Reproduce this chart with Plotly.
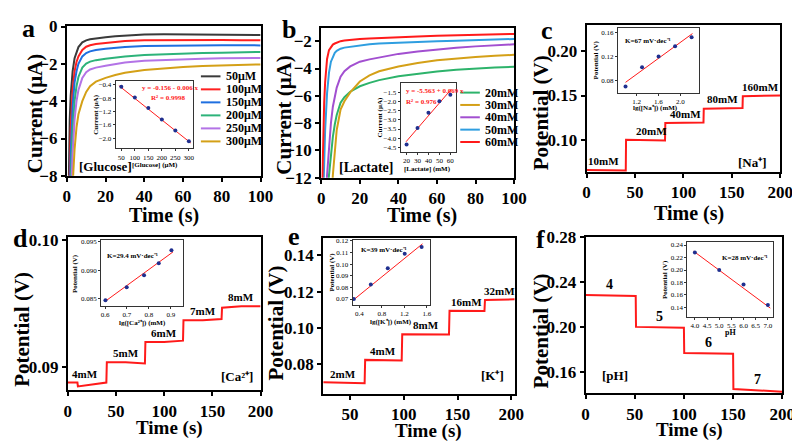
import plotly.graph_objects as go

W, H = 800, 442
SERIF = "Liberation Serif"

# ---------------- Data ----------------
# Panel a: glucose chronoamperometry
a_time = [0.5, 1, 1.5, 2, 3, 4, 5, 6, 8, 10, 12, 15, 20, 25, 30, 40, 50, 60, 70, 80, 90, 100]
a_50uM = [-12, -7.5, -5, -3.7, -2.4, -1.7, -1.35, -1.1, -0.85, -0.74, -0.68, -0.63, -0.57, -0.52, -0.48, -0.42, -0.41, -0.42, -0.43, -0.43, -0.44, -0.45]
a_100uM = [-14, -10, -8, -5.5, -3.4, -2.4, -1.9, -1.6, -1.25, -1.08, -1.0, -0.93, -0.87, -0.82, -0.78, -0.74, -0.73, -0.73, -0.72, -0.72, -0.73, -0.74]
a_150uM = [-15, -12, -9, -6.8, -4.3, -3.0, -2.4, -2.0, -1.6, -1.42, -1.33, -1.26, -1.19, -1.13, -1.09, -1.04, -1.02, -1.01, -1.0, -1.0, -1.0, -1.01]
a_200uM = [-16, -13, -10.5, -8.5, -5.5, -4.0, -3.2, -2.7, -2.2, -1.98, -1.88, -1.8, -1.72, -1.65, -1.6, -1.53, -1.48, -1.45, -1.42, -1.4, -1.38, -1.36]
a_250uM = [-17, -14, -11.5, -9.5, -6.8, -5.0, -4.0, -3.4, -2.75, -2.45, -2.3, -2.2, -2.1, -2.0, -1.93, -1.83, -1.78, -1.75, -1.72, -1.7, -1.69, -1.68]
a_300uM = [-18, -16, -14, -12, -8.5, -6.6, -5.4, -4.7, -4.0, -3.5, -3.2, -2.95, -2.75, -2.6, -2.48, -2.33, -2.24, -2.17, -2.12, -2.08, -2.05, -2.03]
a_labels = ["50μM", "100μM", "150μM", "200μM", "250μM", "300μM"]
a_ins_conc = [50, 100, 150, 200, 250, 300]
a_ins_current = [-0.46, -0.78, -1.10, -1.44, -1.77, -2.09]
a_fit_conc = [41, 307]
a_fit_current = [-0.43, -2.14]

# Panel b: lactate chronoamperometry
b_time = [0.5, 1, 1.5, 2, 3, 4, 5, 6, 7, 8, 10, 12, 15, 20, 25, 30, 40, 50, 60, 70, 80, 90, 100]
b_20mM = [-20, -18.5, -17, -15.5, -13.5, -11.8, -10.2, -9.0, -8.1, -7.4, -6.5, -6.1, -5.7, -5.3, -5.05, -4.85, -4.56, -4.38, -4.22, -4.1, -4.0, -3.93, -3.87]
b_30mM = [-25, -24, -23, -22, -19, -16.5, -14, -11.8, -9.8, -8.5, -7.0, -6.4, -5.75, -4.95, -4.5, -4.2, -3.86, -3.6, -3.4, -3.25, -3.15, -3.07, -3.0]
b_40mM = [-20, -18, -16, -14, -11.8, -9.5, -8.0, -6.8, -6.0, -5.4, -4.6, -4.2, -3.85, -3.5, -3.33, -3.2, -2.93, -2.75, -2.6, -2.48, -2.38, -2.3, -2.23]
b_50mM = [-16, -13, -10.5, -8.5, -5.8, -4.3, -3.5, -3.1, -2.85, -2.7, -2.55, -2.47, -2.4, -2.3, -2.22, -2.17, -2.1, -2.04, -2.0, -1.96, -1.92, -1.88, -1.84]
b_60mM = [-12.5, -9, -6.5, -5, -3.3, -2.65, -2.4, -2.25, -2.17, -2.1, -2.0, -1.95, -1.9, -1.84, -1.8, -1.76, -1.7, -1.65, -1.6, -1.57, -1.54, -1.5, -1.47]
b_labels = ["20mM", "30mM", "40mM", "50mM", "60mM"]
b_ins_conc = [20, 30, 40, 50, 60]
b_ins_current = [-4.35, -3.45, -2.6, -1.97, -1.62]
b_fit_conc = [19.5, 61]
b_fit_current = [-4.2, -1.3]

# Panel c: Na+
c_time = [0, 20, 40.5, 40.8, 60, 81, 81.3, 100, 120.7, 121, 140, 161, 161.3, 180, 200]
c_pot = [0.0660, 0.0657, 0.0654, 0.1000, 0.0997, 0.0993, 0.1189, 0.1192, 0.1196, 0.1350, 0.1355, 0.1360, 0.1493, 0.1496, 0.1500]
c_step_labels = ["10mM", "20mM", "40mM", "80mM", "160mM"]
c_label_time = [18, 67, 102, 140, 180]
c_label_pot = [0.0660, 0.1000, 0.1192, 0.1355, 0.1496]
c_ins_lg = [1.0, 1.301, 1.602, 1.903, 2.204]
c_ins_pot = [0.070, 0.102, 0.120, 0.137, 0.152]
c_fit_lg = [1.0, 2.22]
c_fit_pot = [0.077, 0.158]

# Panel d: Ca2+
d_time = [0, 10, 10.5, 20, 30, 40, 40.5, 60, 80, 80.5, 100, 119.5, 120, 140, 159.5, 160, 180, 200]
d_pot = [0.0888, 0.0888, 0.0885, 0.0886, 0.0887, 0.0888, 0.0904, 0.0904, 0.0903, 0.0920, 0.0920, 0.0921, 0.0937, 0.0937, 0.0938, 0.0947, 0.0948, 0.0948]
d_step_labels = ["4mM", "5mM", "6mM", "7mM", "8mM"]
d_label_time = [18, 60, 100, 140, 180]
d_label_pot = [0.0888, 0.0904, 0.0920, 0.0937, 0.0948]
d_ins_lg = [0.602, 0.699, 0.778, 0.845, 0.903]
d_ins_pot = [0.0847, 0.0870, 0.0891, 0.0912, 0.0935]
d_fit_lg = [0.6, 0.91]
d_fit_pot = [0.0845, 0.0932]

# Panel e: K+
e_time = [25, 45, 63.5, 64, 80, 98, 98.5, 120, 142, 142.5, 160, 175, 175.5, 190, 203]
e_pot = [0.0702, 0.0700, 0.0697, 0.0825, 0.0823, 0.0822, 0.0966, 0.0965, 0.0964, 0.1095, 0.1095, 0.1094, 0.1155, 0.1157, 0.1158]
e_step_labels = ["2mM", "4mM", "8mM", "16mM", "32mM"]
e_label_time = [43, 81, 121, 158, 189]
e_label_pot = [0.0700, 0.0823, 0.0965, 0.1095, 0.1157]
e_ins_lg = [0.301, 0.602, 0.903, 1.204, 1.505]
e_ins_pot = [0.0700, 0.0825, 0.0965, 0.1090, 0.1148]
e_fit_lg = [0.3, 1.52]
e_fit_pot = [0.0695, 0.1175]

# Panel f: pH
f_time = [0, 30, 51, 51.3, 75, 100, 100.3, 125, 150, 150.3, 175, 200]
f_pot = [0.2285, 0.2283, 0.2278, 0.2003, 0.2000, 0.1995, 0.1772, 0.1770, 0.1765, 0.1452, 0.1440, 0.1428]
f_step_labels = ["4", "5", "6", "7"]
f_label_time = [24, 75, 125, 175]
f_label_pot = [0.2283, 0.2000, 0.1770, 0.1440]
f_ins_ph = [4.0, 5.0, 6.0, 7.0]
f_ins_pot = [0.228, 0.200, 0.177, 0.144]
f_fit_ph = [3.95, 7.1]
f_fit_pot = [0.230, 0.139]

# ---------------- Helpers ----------------
def xdom(x0, x1):
    return [x0 / W, x1 / W]

def ydom(y0, y1):
    return [1 - y1 / H, 1 - y0 / H]

def px(x):
    return x / W

def py(y):
    return 1 - y / H

def ids(i):
    return ("x", "y") if i == 1 else (f"x{i}", f"y{i}")

def keys(i):
    return ("xaxis", "yaxis") if i == 1 else (f"xaxis{i}", f"yaxis{i}")

fig = go.Figure()
layout = {}

def main_axes(i, box, xr, yr, xt, yt, yfmt=None):
    xk, yk = keys(i)
    xi, yi = ids(i)
    common = dict(showline=True, mirror=True, linecolor="black", linewidth=2,
                  ticks="outside", ticklen=4, tickwidth=2, tickcolor="black",
                  showgrid=False, zeroline=False,
                  tickfont=dict(family=SERIF, size=17, color="black", weight="bold"))
    layout[xk] = dict(domain=xdom(box[0], box[2]), range=xr, anchor=yi,
                      tickvals=xt, **common)
    ya = dict(domain=ydom(box[1], box[3]), range=yr, anchor=xi, tickvals=yt, **common)
    if yfmt:
        ya["tickformat"] = yfmt
    layout[yk] = ya

def inset_axes(i, box, xr, yr, xt, yt, xfmt=None, yfmt=None):
    xk, yk = keys(i)
    xi, yi = ids(i)
    common = dict(showline=True, mirror=True, linecolor="#333", linewidth=1,
                  ticks="outside", ticklen=2, tickwidth=1, tickcolor="#333",
                  showgrid=False, zeroline=False,
                  tickfont=dict(family=SERIF, size=7, color="black"))
    xa = dict(domain=xdom(box[0], box[2]), range=xr, anchor=yi, tickvals=xt, **common)
    ya = dict(domain=ydom(box[1], box[3]), range=yr, anchor=xi, tickvals=yt, **common)
    if xfmt:
        xa["tickformat"] = xfmt
    if yfmt:
        ya["tickformat"] = yfmt
    layout[xk] = xa
    layout[yk] = ya

def line_trace(i, x, y, color, width=2):
    xi, yi = ids(i)
    fig.add_trace(go.Scatter(x=x, y=y, mode="lines", xaxis=xi, yaxis=yi,
                             line=dict(color=color, width=width), showlegend=False,
                             hoverinfo="skip"))

def point_trace(i, x, y):
    xi, yi = ids(i)
    fig.add_trace(go.Scatter(x=x, y=y, mode="markers", xaxis=xi, yaxis=yi,
                             marker=dict(color="#1f2f8f", size=4), showlegend=False,
                             hoverinfo="skip"))

annotations = []
shapes = []

def ptext(x, y, text, size, bold=True, color="black", angle=0, xanchor="center"):
    annotations.append(dict(x=px(x), y=py(y), xref="paper", yref="paper", text=text,
                            showarrow=False, textangle=angle, xanchor=xanchor,
                            yanchor="middle",
                            font=dict(family=SERIF, size=size, color=color,
                                      weight="bold" if bold else "normal")))

def dtext(i, x, y, text, size=12):
    xi, yi = ids(i)
    annotations.append(dict(x=x, y=y, xref=xi, yref=yi, text=text, showarrow=False,
                            xanchor="center", yanchor="bottom", yshift=1,
                            font=dict(family=SERIF, size=size, color="black", weight="bold")))

RED = "#ff1a1a"

# ---------------- Panel a ----------------
a_colors = ["#3a3a3a", "#ff2020", "#1f6fe0", "#2db37a", "#b373e6", "#d4a017"]
main_axes(1, (56, 9, 254, 166), [0, 100], [-8, 0.05], [0, 20, 40, 60, 80, 100], [-8, -6, -4, -2, 0])
for ys, col in zip([a_50uM, a_100uM, a_150uM, a_200uM, a_250uM, a_300uM], a_colors):
    line_trace(1, a_time, ys, col, 2)
inset_axes(7, (106, 67, 185, 137), [29.4, 315.6], [-2.294, -0.294],
           [50, 100, 150, 200, 250, 300], [-0.4, -0.8, -1.2, -1.6, -2.0], yfmt=".1f")
line_trace(7, a_fit_conc, a_fit_current, RED, 1)
point_trace(7, a_ins_conc, a_ins_current)

# ---------------- Panel b ----------------
b_colors = ["#2db36b", "#d4a017", "#a24fd0", "#2f9ee0", "#ff1a1a"]
main_axes(2, (316, 11, 513, 168), [0, 100], [-12, -1.0], [0, 20, 40, 60, 80, 100], [-12, -10, -8, -6, -4, -2])
for ys, col in zip([b_20mM, b_30mM, b_40mM, b_50mM, b_60mM], b_colors):
    line_trace(2, b_time, ys, col, 2)
inset_axes(8, (397, 69, 454, 141), [14.5, 65.5], [-4.76, -0.97],
           [20, 30, 40, 50, 60], [-1.5, -2.0, -2.5, -3.0, -3.5, -4.0, -4.5], yfmt=".1f")
line_trace(8, b_fit_conc, b_fit_current, RED, 1)
point_trace(8, b_ins_conc, b_ins_current)

# ---------------- Panel c ----------------
main_axes(3, (587, 8, 785, 162), [0, 200], [0.0636, 0.230], [0, 50, 100, 150, 200], [0.10, 0.15, 0.20], ".2f")
line_trace(3, c_time, c_pot, RED, 2)
for t, v, s in zip(c_label_time, c_label_pot, c_step_labels):
    dtext(3, t, v, s, 11)
inset_axes(9, (619, 11, 702, 79), [0.86, 2.34], [0.060, 0.168],
           [1.2, 1.6, 2.0], [0.08, 0.12, 0.16], xfmt=".1f", yfmt=".2f")
line_trace(9, c_fit_lg, c_fit_pot, RED, 1)
point_trace(9, c_ins_lg, c_ins_pot)

# ---------------- Panel d ----------------
main_axes(4, (57, 230, 254, 390), [0, 200], [0.0882, 0.10025], [0, 50, 100, 150, 200], [0.09, 0.10], ".2f")
line_trace(4, d_time, d_pot, RED, 2)
for t, v, s in zip(d_label_time, d_label_pot, d_step_labels):
    dtext(4, t, v, s, 11)
inset_axes(10, (91, 233, 175, 302), [0.582, 0.957], [0.0837, 0.0953],
           [0.6, 0.7, 0.8, 0.9], [0.085, 0.090, 0.095], xfmt=".1f", yfmt=".3f")
line_trace(10, d_fit_lg, d_fit_pot, RED, 1)
point_trace(10, d_ins_lg, d_ins_pot)

# ---------------- Panel e ----------------
main_axes(5, (318, 231, 514, 394), [25, 203.5], [0.0637, 0.1495], [50, 100, 150, 200], [0.08, 0.10, 0.12, 0.14], ".2f")
line_trace(5, e_time, e_pot, RED, 2)
for t, v, s in zip(e_label_time, e_label_pot, e_step_labels):
    dtext(5, t, v, s, 11)
inset_axes(11, (348, 233, 427, 301), [0.278, 1.652], [0.0648, 0.1208],
           [0.4, 0.8, 1.2, 1.6], [0.07, 0.08, 0.09, 0.10, 0.11, 0.12], xfmt=".1f", yfmt=".2f")
line_trace(11, e_fit_lg, e_fit_pot, RED, 1)
point_trace(11, e_ins_lg, e_ins_pot)

# ---------------- Panel f ----------------
main_axes(6, (586, 230, 787, 393), [0, 200], [0.1415, 0.28], [0, 50, 100, 150, 200], [0.16, 0.20, 0.24, 0.28], ".2f")
line_trace(6, f_time, f_pot, RED, 2)
for t, v, s in zip(f_label_time, f_label_pot, f_step_labels):
    dtext(6, t, v, s, 14)
inset_axes(12, (690, 235, 778, 313), [3.69, 7.23], [0.1255, 0.245],
           [4.0, 4.5, 5.0, 5.5, 6.0, 6.5, 7.0], [0.14, 0.16, 0.18, 0.20, 0.22, 0.24], xfmt=".1f", yfmt=".2f")
line_trace(12, f_fit_ph, f_fit_pot, RED, 1)
point_trace(12, f_ins_ph, f_ins_pot)

# ---------------- Manual legends ----------------
for k, (lab, col) in enumerate(zip(a_labels, a_colors)):
    yy = 62 + k * 13.6
    shapes.append(dict(type="line", xref="paper", yref="paper", x0=px(193), x1=px(213),
                       y0=py(yy), y1=py(yy), line=dict(color=col, width=2)))
    ptext(217, yy, lab, 12, xanchor="left")
for k, (lab, col) in enumerate(zip(b_labels, b_colors)):
    yy = 79 + k * 12.9
    shapes.append(dict(type="line", xref="paper", yref="paper", x0=px(458), x1=px(478),
                       y0=py(yy), y1=py(yy), line=dict(color=col, width=2)))
    ptext(481, yy, lab, 12, xanchor="left")

# ---------------- Texts ----------------
for (x, y, s) in [(17, 12, "a"), (283, 13, "b"), (547, 14, "c"), (9, 231, "d"), (288, 229, "e"), (540, 233, "f")]:
    ptext(x, y, s, 26)

# main axis titles
ptext(23, 101, "Current (μA)", 21, angle=-90)
ptext(155, 207, "Time (s)", 20)
ptext(277, 103, "Current (μA)", 21, angle=-90)
ptext(419, 207, "Time (s)", 20)
ptext(540, 100, "Potential (V)", 21, angle=-90)
ptext(692, 205, "Time (s)", 20)
ptext(10, 326, "Potential (V)", 21, angle=-90)
ptext(161, 429, "Time (s)", 19)
ptext(270, 320, "Potential (V)", 21, angle=-90)
ptext(426, 433, "Time (s)", 19)
ptext(540, 328, "Potential (V)", 21, angle=-90)
ptext(692, 432, "Time (s)", 19)

# in-plot species labels
ptext(66, 156, "[Glucose]", 13, xanchor="left")
ptext(332, 157, "[Lactate]", 14, xanchor="left")
ptext(757, 152, "[Na⁺]", 13)
ptext(230, 376, "[Ca²⁺]", 13)
ptext(491, 375, "[K⁺]", 13)
ptext(616, 375, "[pH]", 13)

# inset axis titles
ptext(85, 102, "Current (μA)", 7, angle=-90)
ptext(146, 155, "[Glucose] (μM)", 7)
ptext(376, 105, "Current (μA)", 7, angle=-90)
ptext(425, 159, "[Lactate] (mM)", 7)
ptext(597, 45, "Potential (V)", 7, angle=-90)
ptext(657, 95, "lg([Na⁺]) (mM)", 7)
ptext(65, 268, "Potential (V)", 7, angle=-90)
ptext(133, 320, "lg([Ca²⁺]) (mM)", 7)
ptext(326, 267, "Potential (V)", 7, angle=-90)
ptext(387, 319, "lg([K⁺]) (mM)", 7)
ptext(667, 274, "Potential (V)", 7, angle=-90)
ptext(734, 330, "pH", 8)

# inset equations
ptext(131, 74, "y = -0.156 - 0.006 x", 7, color=RED, xanchor="left")
ptext(140, 85, "R² = 0.9998", 7, color=RED, xanchor="left")
ptext(401, 77, "y = -5.563 + 0.069 x", 7, color=RED, xanchor="left")
ptext(401, 89, "R² = 0.976", 7, color=RED, xanchor="left")
ptext(624, 25, "K=67 mV·dec⁻¹", 7, xanchor="left")
ptext(95, 250, "K=29.4 mV·dec⁻¹", 7, xanchor="left")
ptext(355, 243, "K=39 mV·dec⁻¹", 7, xanchor="left")
ptext(723, 252, "K=28 mV·dec⁻¹", 7, xanchor="left")

layout.update(dict(width=W, height=H, autosize=False,
                   margin=dict(l=0, r=0, t=0, b=0),
                   paper_bgcolor="white", plot_bgcolor="white",
                   showlegend=False, annotations=annotations, shapes=shapes))
fig.update_layout(**layout)
fig.write_html("out.html")
